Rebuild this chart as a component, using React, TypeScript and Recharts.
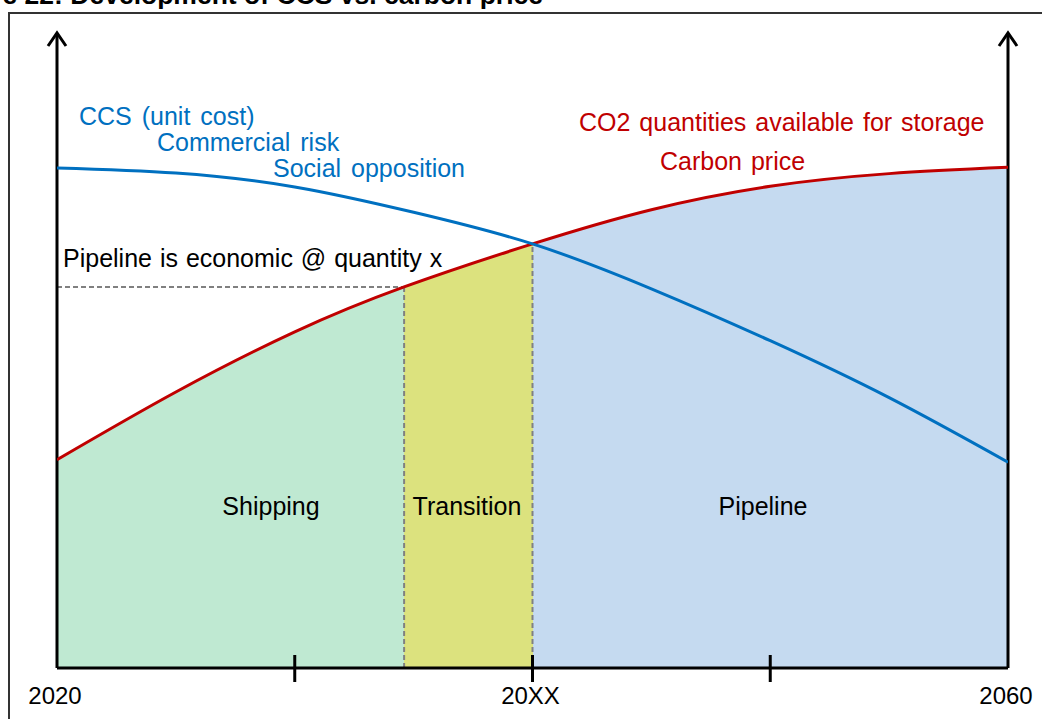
import React from 'react'
import { ComposedChart, Area, Line, XAxis, YAxis, ReferenceLine, ReferenceDot } from 'recharts'

// years on the x axis, the inner ticks carry no label
const tickYears = [2020, 2030, 2040, 2050, 2060]
const tickLabels = ['2020', '', '20XX', '', '2060']

// carbon price / CO2 quantities (red)
const carbonYears = [2020, 2025, 2030, 2034.6, 2040, 2045, 2050, 2055, 2060]
const carbonPrice = [32.9, 43.6, 53.1, 60.2, 67.0, 72.4, 76.1, 78.1, 79.1]

// CCS unit cost (blue)
const ccsYears = [2020, 2025, 2030, 2035, 2040, 2045, 2050, 2055, 2060]
const ccsCost = [79.0, 78.2, 76.0, 72.0, 67.0, 59.9, 51.7, 42.7, 32.5]

// zone borders
const transitionYear = 2034.6
const economicQty = 60.2
const crossYear = 2040
const crossValue = 67.0

const startYear = 2020
const endYear = 2060

const FONT = '"Liberation Sans", Arial, sans-serif'
const RED = '#C00000'
const BLUE = '#0070C0'
const DASH = '#808080'

const carbonData = carbonYears.map((year, i) => ({ year, v: carbonPrice[i] }))
const ccsData = ccsYears.map((year, i) => ({ year, v: ccsCost[i] }))

const span = endYear - startYear
const stopTransition = `${((transitionYear - startYear) / span) * 100}%`
const stopCross = `${((crossYear - startYear) / span) * 100}%`

const XTick = (props: any) => {
  const { x, y, payload } = props
  const idx = tickYears.indexOf(payload.value)
  const inner = idx > 0 && idx < tickYears.length - 1
  return (
    <g>
      {inner && <line x1={x} x2={x} y1={y - 13} y2={y + 14} stroke="#000" strokeWidth={3} />}
      <text x={x - 2} y={y + 36} textAnchor="middle" fontSize={24} fontFamily={FONT} fill="#000">
        {tickLabels[idx]}
      </text>
    </g>
  )
}

const Arrow = (props: any) => {
  const { cx, cy } = props
  return (
    <path
      d={`M${cx - 9},${cy + 11} L${cx},${cy - 2} L${cx + 9},${cy + 11}`}
      stroke="#000"
      strokeWidth={3}
      fill="none"
    />
  )
}

export default function App() {
  const dashed = { stroke: DASH, strokeWidth: 2, strokeDasharray: '5 3' }

  return (
    <div style={{ position: 'fixed', left: 0, top: 0, width: 1042, height: 719, background: '#fff' }}>
      <ComposedChart
        width={1042}
        height={719}
        margin={{ top: 35, right: 34, bottom: 21, left: 57 }}
      >
        <defs>
          <linearGradient id="zones" x1="0" y1="0" x2="1" y2="0">
            <stop offset="0%" stopColor="#BFE9D2" />
            <stop offset={stopTransition} stopColor="#BFE9D2" />
            <stop offset={stopTransition} stopColor="#DCE27E" />
            <stop offset={stopCross} stopColor="#DCE27E" />
            <stop offset={stopCross} stopColor="#C5DAF0" />
            <stop offset="100%" stopColor="#C5DAF0" />
          </linearGradient>
        </defs>
        <XAxis
          dataKey="year"
          type="number"
          domain={[startYear, endYear]}
          ticks={tickYears}
          tick={<XTick />}
          tickLine={false}
          tickSize={0}
          tickMargin={0}
          axisLine={{ stroke: '#000', strokeWidth: 3 }}
          allowDataOverflow
        />
        <YAxis type="number" domain={[0, 100]} hide />

        <Area
          data={carbonData}
          dataKey="v"
          type="natural"
          stroke="none"
          fill="url(#zones)"
          fillOpacity={1}
          isAnimationActive={false}
        />

        <ReferenceLine segment={[{ x: startYear, y: economicQty }, { x: transitionYear, y: economicQty }]} {...dashed} />
        <ReferenceLine segment={[{ x: transitionYear, y: 0 }, { x: transitionYear, y: economicQty }]} {...dashed} />
        <ReferenceLine segment={[{ x: crossYear, y: 0 }, { x: crossYear, y: crossValue }]} {...dashed} />

        <ReferenceLine x={startYear} stroke="#000" strokeWidth={3} />
        <ReferenceLine x={endYear} stroke="#000" strokeWidth={3} />
        <ReferenceDot x={startYear} y={100} r={1} shape={<Arrow />} ifOverflow="visible" />
        <ReferenceDot x={endYear} y={100} r={1} shape={<Arrow />} ifOverflow="visible" />

        <Line
          data={carbonData}
          dataKey="v"
          type="natural"
          stroke={RED}
          strokeWidth={3}
          dot={false}
          activeDot={false}
          isAnimationActive={false}
        />
        <Line
          data={ccsData}
          dataKey="v"
          type="natural"
          stroke={BLUE}
          strokeWidth={3}
          dot={false}
          activeDot={false}
          isAnimationActive={false}
        />
      </ComposedChart>

      {/* frame, title and annotations */}
      <svg
        width={1042}
        height={719}
        style={{ position: 'absolute', left: 0, top: 0, pointerEvents: 'none' }}
        fontFamily={FONT}
      >
        <path d="M9,719 L9,13 L1042,13" stroke="#333" strokeWidth={2} fill="none" />
        <text x={543} y={4} textAnchor="end" fontSize={26.5} fontWeight="bold" fill="#000">
          Figure 22: Development of CCS vs. carbon price
        </text>

        <g fontSize={25} fill={BLUE} wordSpacing={3}>
          <text x={79} y={125}>CCS (unit cost)</text>
          <text x={157} y={151}>Commercial risk</text>
          <text x={273} y={177}>Social opposition</text>
        </g>
        <g fontSize={25} fill={RED} wordSpacing={2}>
          <text x={579} y={131}>CO2 quantities available for storage</text>
          <text x={660} y={170}>Carbon price</text>
        </g>
        <g fontSize={25} fill="#000" wordSpacing={1}>
          <text x={63} y={267}>Pipeline is economic @ quantity x</text>
          <text x={271} y={515} textAnchor="middle">Shipping</text>
          <text x={467} y={515} textAnchor="middle">Transition</text>
          <text x={763} y={515} textAnchor="middle">Pipeline</text>
        </g>
      </svg>
    </div>
  )
}
